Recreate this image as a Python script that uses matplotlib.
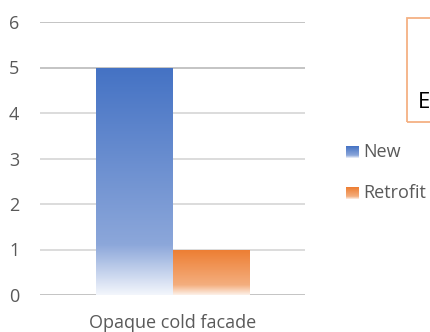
import numpy as np
import matplotlib
matplotlib.use("Agg")
import matplotlib.pyplot as plt
from matplotlib.colors import LinearSegmentedColormap
from matplotlib.patches import Rectangle

plt.rcParams['font.family'] = ['Open Sans', 'DejaVu Sans']

# Data
categories = ["Opaque cold facade"]
series_names = ["New", "Retrofit"]
series_values = [[5], [1]]
yticks = [0, 1, 2, 3, 4, 5, 6]

# Gradient stops (position from top of bar, colour)
blue_stops = [(0.0, "#4472C4"), (0.78, "#8CA7DA"), (1.0, "#F3F6FC")]
orange_stops = [(0.0, "#ED7D31"), (0.78, "#F4AE7E"), (1.0, "#FDF1E9")]
series_grads = [blue_stops, orange_stops]

W, H = 431, 332
fig = plt.figure(figsize=(W / 100, H / 100), dpi=100)
ax = fig.add_axes([40 / W, 1 - 295 / H, 265 / W, 273 / H])
ax.set_xlim(-0.5, 0.5)
ax.set_ylim(0, 6)

grad = np.linspace(0, 1, 256).reshape(-1, 1)
bar_w = 0.29
for i, (name, vals, stops) in enumerate(zip(series_names, series_values, series_grads)):
    cmap = LinearSegmentedColormap.from_list(name, stops)
    offs = (i - 0.5) * bar_w
    bars = ax.bar(np.arange(len(categories)) + offs, vals, width=bar_w,
                  color="none", edgecolor="none", zorder=3)
    for b in bars:
        x0, w, h = b.get_x(), b.get_width(), b.get_height()
        im = ax.imshow(grad, cmap=cmap, aspect="auto", origin="upper",
                       extent=(x0, x0 + w, 0, h), zorder=3, interpolation="bilinear")
        im.set_clip_path(b)

ax.set_xlim(-0.5, 0.5)
ax.set_ylim(0, 6)
ax.set_yticks(yticks)
ax.set_xticks(np.arange(len(categories)))
ax.set_xticklabels(categories, fontsize=13)
ax.tick_params(axis="both", length=0, colors="#595959")
ax.tick_params(axis="y", labelsize=13, pad=15)
ax.tick_params(axis="x", pad=14)
for s in ax.spines.values():
    s.set_visible(False)
for t in yticks:
    ax.axhline(t, color="#BFBFBF" if t in (0, 5, 6) else "#D9D9D9", lw=1.3, zorder=1)

# Legend with gradient swatches
for i, (name, stops) in enumerate(zip(series_names, series_grads)):
    cy = 152 + i * 41
    sax = fig.add_axes([346 / W, 1 - (cy + 6) / H, 13 / W, 12 / H])
    sax.imshow(grad, cmap=LinearSegmentedColormap.from_list(name + "_l", stops),
               aspect="auto", interpolation="bilinear")
    sax.axis("off")
    fig.text(363 / W, 1 - cy / H, name, fontsize=13, color="#595959",
             va="center", ha="left")

# Title box at the right edge
fig.patches.append(Rectangle((407 / W, 1 - 122 / H), 60 / W, 104 / H,
                             transform=fig.transFigure, fill=False,
                             edgecolor="#F4B183", lw=1.3))
fig.text(430 / W, 1 - 102 / H, "E", fontsize=16, color="black",
         va="center", ha="right")

fig.savefig("out.png", dpi=100)
